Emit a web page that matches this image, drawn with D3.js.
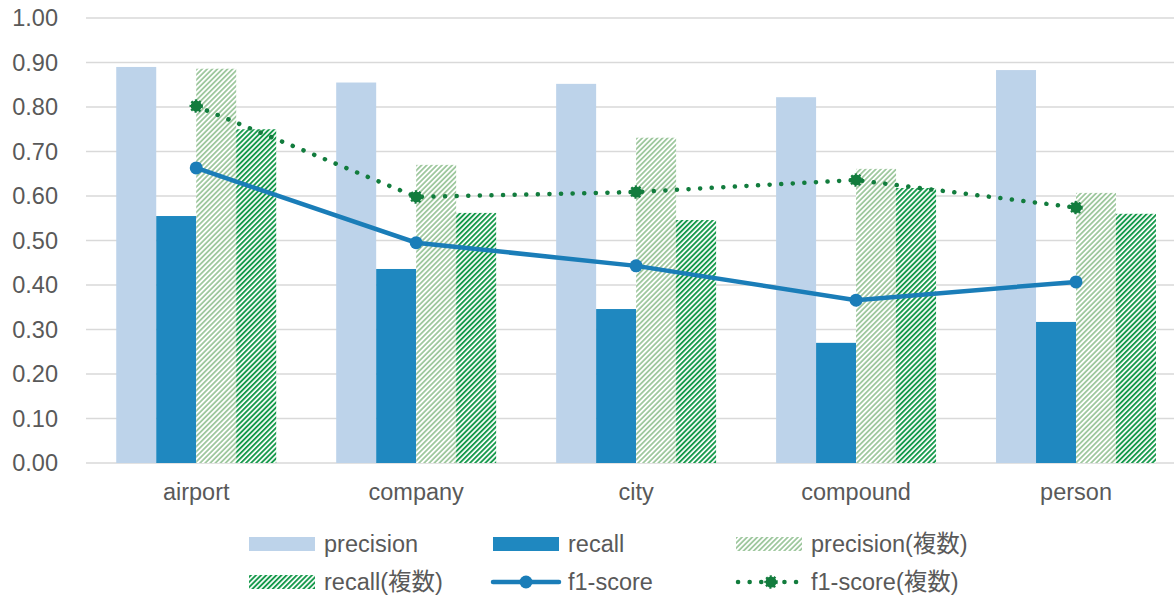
<!DOCTYPE html>
<html>
<head>
<meta charset="utf-8">
<script src="https://cdn.jsdelivr.net/npm/d3@7"></script>
<style>
  body { margin: 0; background: #fff; }
  text { font-family: "Liberation Sans", Arial, "Noto Sans CJK JP", sans-serif; fill: #595959; }
</style>
</head>
<body>
<div id="chart"></div>
<script>
// categories and values
var categories = ["airport", "company", "city", "compound", "person"];
var precision      = [0.890, 0.855, 0.852, 0.822, 0.883];
var recall         = [0.555, 0.436, 0.346, 0.270, 0.317];
var precisionMulti = [0.886, 0.670, 0.731, 0.661, 0.607];
var recallMulti    = [0.750, 0.562, 0.546, 0.618, 0.560];
var f1             = [0.663, 0.495, 0.443, 0.366, 0.407];
var f1Multi        = [0.802, 0.598, 0.609, 0.636, 0.574];
var yTicks = [0, 0.1, 0.2, 0.3, 0.4, 0.5, 0.6, 0.7, 0.8, 0.9, 1.0];

var width = 1174, height = 596;
var svg = d3.select("#chart").append("svg")
  .attr("width", width)
  .attr("height", height);

// hatch patterns
var defs = svg.append("defs");
function hatch(id, color, w) {
  var p = defs.append("pattern")
    .attr("id", id)
    .attr("patternUnits", "userSpaceOnUse")
    .attr("width", 3.6)
    .attr("height", 3.6)
    .attr("patternTransform", "rotate(45)");
  p.append("rect").attr("width", 3.6).attr("height", 3.6).attr("fill", "#fff");
  p.append("rect").attr("width", w).attr("height", 3.6).attr("fill", color);
}
hatch("hatchLight", "#9fc89f", 1.8);
hatch("hatchDark", "#16994b", 1.9);

var series = [
  {name: "precision", values: precision, fill: "#bdd3ea"},
  {name: "recall", values: recall, fill: "#1f88c0"},
  {name: "precision(複数)", values: precisionMulti, fill: "url(#hatchLight)"},
  {name: "recall(複数)", values: recallMulti, fill: "url(#hatchDark)"}
];

// scales
var x = d3.scaleBand().domain(categories).range([86.25, 1186]);
var x1 = d3.scaleBand().domain(series.map(d => d.name))
  .range([0, x.bandwidth()]).paddingOuter(0.75).paddingInner(0);
var y = d3.scaleLinear().domain([0, 1]).range([463, 18]);

// grid
svg.append("g")
  .selectAll("line")
  .data(yTicks)
  .join("line")
  .attr("x1", 86)
  .attr("x2", width)
  .attr("y1", d => y(d))
  .attr("y2", d => y(d))
  .attr("stroke", "#d9d9d9")
  .attr("stroke-width", 1.5);

// y labels
svg.append("g")
  .selectAll("text")
  .data(yTicks)
  .join("text")
  .attr("x", 58)
  .attr("y", d => y(d))
  .attr("dy", "0.36em")
  .attr("text-anchor", "end")
  .attr("font-size", 23.5)
  .text(d => d3.format(".2f")(d));

// x labels
svg.append("g")
  .selectAll("text")
  .data(categories)
  .join("text")
  .attr("x", d => x(d) + x.bandwidth() / 2)
  .attr("y", 500)
  .attr("text-anchor", "middle")
  .attr("font-size", 23.5)
  .text(d => d);

// bars
series.forEach(s => {
  svg.append("g")
    .selectAll("rect")
    .data(s.values)
    .join("rect")
    .attr("x", (d, i) => x(categories[i]) + x1(s.name))
    .attr("width", x1.bandwidth())
    .attr("y", d => y(d))
    .attr("height", d => y(0) - y(d))
    .attr("fill", s.fill);
});

// lines
var cx = i => x(categories[i]) + x.bandwidth() / 2;
var line = d3.line().x((d, i) => cx(i)).y(d => y(d));

svg.append("path")
  .attr("d", line(f1))
  .attr("fill", "none")
  .attr("stroke", "#1a7db8")
  .attr("stroke-width", 4.5)
  .attr("stroke-linecap", "round");

svg.append("g")
  .selectAll("circle")
  .data(f1)
  .join("circle")
  .attr("cx", (d, i) => cx(i))
  .attr("cy", d => y(d))
  .attr("r", 6.5)
  .attr("fill", "#1a7db8");

svg.append("path")
  .attr("d", line(f1Multi))
  .attr("fill", "none")
  .attr("stroke", "#127c3d")
  .attr("stroke-width", 4.5)
  .attr("stroke-linecap", "round")
  .attr("stroke-dasharray", "0.1 11.5");

function dottedMarker(sel, px, py) {
  sel.append("circle")
    .attr("cx", px).attr("cy", py).attr("r", 5.5)
    .attr("fill", "#127c3d")
    .attr("stroke", "#127c3d")
    .attr("stroke-width", 2.5)
    .attr("stroke-dasharray", "2 2");
}
f1Multi.forEach((d, i) => dottedMarker(svg, cx(i), y(d)));

// legend
var legend = svg.append("g");
var cols = [249, 493, 736];
var rows = [544, 582];
var items = [
  {name: "precision", type: "bar", fill: "#bdd3ea"},
  {name: "recall", type: "bar", fill: "#1f88c0"},
  {name: "precision(複数)", type: "bar", fill: "url(#hatchLight)"},
  {name: "recall(複数)", type: "bar", fill: "url(#hatchDark)"},
  {name: "f1-score", type: "line"},
  {name: "f1-score(複数)", type: "dots"}
];
items.forEach((it, i) => {
  var lx = cols[i % 3], ly = rows[Math.floor(i / 3)];
  if (it.type == "bar") {
    legend.append("rect")
      .attr("x", lx).attr("y", ly - 7)
      .attr("width", 66).attr("height", 14)
      .attr("fill", it.fill);
  } else if (it.type == "line") {
    legend.append("line")
      .attr("x1", lx).attr("x2", lx + 66)
      .attr("y1", ly).attr("y2", ly)
      .attr("stroke", "#1a7db8").attr("stroke-width", 4.5)
      .attr("stroke-linecap", "round");
    legend.append("circle")
      .attr("cx", lx + 33).attr("cy", ly).attr("r", 6.5)
      .attr("fill", "#1a7db8");
  } else {
    legend.append("line")
      .attr("x1", lx + 2).attr("x2", lx + 66)
      .attr("y1", ly).attr("y2", ly)
      .attr("stroke", "#127c3d").attr("stroke-width", 4.5)
      .attr("stroke-linecap", "round")
      .attr("stroke-dasharray", "0.1 11.5");
    dottedMarker(legend, lx + 35, ly);
  }
  legend.append("text")
    .attr("x", lx + 75)
    .attr("y", ly)
    .attr("dy", "0.36em")
    .attr("font-size", 23.5)
    .text(it.name);
});
</script>
</body>
</html>
